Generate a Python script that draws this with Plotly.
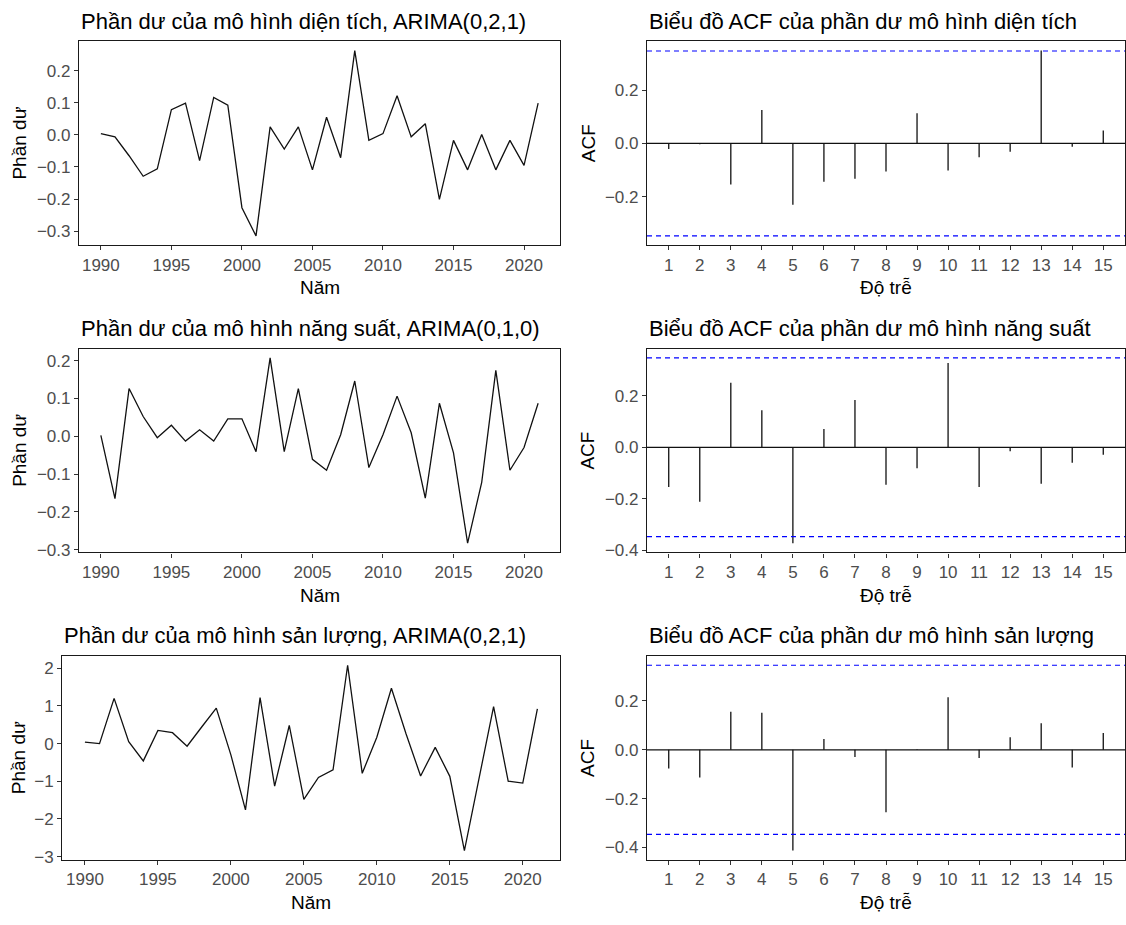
import plotly.graph_objects as go

# ---------------- data ----------------
years = list(range(1990, 2022))

resid_area = [0.004, -0.006, -0.065, -0.129, -0.106, 0.079, 0.099, -0.080, 0.117, 0.093,
              -0.227, -0.315, 0.025, -0.044, 0.025, -0.109, 0.055, -0.071, 0.263, -0.017,
              0.004, 0.122, -0.006, 0.035, -0.201, -0.017, -0.109, 0.001, -0.109, -0.017,
              -0.095, 0.099]

resid_yield = [0.002, -0.165, 0.126, 0.052, -0.004, 0.029, -0.013, 0.017, -0.013, 0.046,
               0.046, -0.041, 0.207, -0.041, 0.126, -0.061, -0.090, 0.004, 0.146, -0.083,
               0.004, 0.106, 0.009, -0.164, 0.087, -0.044, -0.283, -0.122, 0.174, -0.090,
               -0.030, 0.087]

resid_output = [0.04, 0.00, 1.20, 0.05, -0.46, 0.35, 0.29, -0.07, 0.44, 0.94,
                -0.30, -1.76, 1.22, -1.13, 0.48, -1.48, -0.90, -0.70, 2.08, -0.79,
                0.17, 1.47, 0.26, -0.86, -0.10, -0.87, -2.84, -0.90, 0.98, -1.00,
                -1.05, 0.92]

lags = list(range(1, 16))
acf_area = [-0.021, -0.003, -0.154, 0.125, -0.230, -0.144, -0.132, -0.105, 0.113, -0.101,
            -0.052, -0.031, 0.348, -0.012, 0.049]
acf_yield = [-0.154, -0.211, 0.250, 0.144, -0.372, 0.071, 0.183, -0.145, -0.081, 0.327,
             -0.154, -0.015, -0.141, -0.060, -0.029]
acf_output = [-0.077, -0.114, 0.156, 0.152, -0.413, 0.044, -0.030, -0.256, 0.002, 0.215,
              -0.034, 0.051, 0.109, -0.073, 0.069]

titles_resid = ["Phần dư của mô hình diện tích, ARIMA(0,2,1)",
                "Phần dư của mô hình năng suất, ARIMA(0,1,0)",
                "Phần dư của mô hình sản lượng, ARIMA(0,2,1)"]
titles_acf = ["Biểu đồ ACF của phần dư mô hình diện tích",
              "Biểu đồ ACF của phần dư mô hình năng suất",
              "Biểu đồ ACF của phần dư mô hình sản lượng"]
xlab_resid = "Năm"
ylab_resid = "Phần dư"
xlab_acf = "Độ trễ"
ylab_acf = "ACF"
year_ticks = [1990, 1995, 2000, 2005, 2010, 2015, 2020]
resid_ticks = [[-0.3, -0.2, -0.1, 0.0, 0.1, 0.2],
               [-0.3, -0.2, -0.1, 0.0, 0.1, 0.2],
               [-3, -2, -1, 0, 1, 2]]
acf_ticks = [-0.4, -0.2, 0.0, 0.2]

# ---------------- layout geometry (px) ----------------
W, H = 1126, 925
FONT = "Liberation Sans, Arial, sans-serif"
rows_top = [41.7, 351.7, 661.7]
rows_bot = [247.3, 557.3, 867.3]
left_l = [79, 79, 62.3]
left_r = 560
right_l, right_r = 647, 1125

def xd(l, r):
    return [l / W, r / W]

def yd(t, b):
    return [1 - b / H, 1 - t / H]

def expand(vals):
    lo, hi = min(vals), max(vals)
    pad = 0.05 * (hi - lo)
    return [lo - pad, hi + pad]

n = len(years)
ci = 1.96 / n ** 0.5

fig = go.Figure()

axis_common = dict(showline=True, mirror=True, linecolor="#1a1a1a", linewidth=1.3,
                   ticks="outside", ticklen=4, tickwidth=1.1, tickcolor="#333333",
                   showgrid=False, zeroline=False,
                   tickfont=dict(family=FONT, size=17, color="#4D4D4D"))

resid_series = [resid_area, resid_yield, resid_output]
acf_series = [acf_area, acf_yield, acf_output]

annotations = []
shapes = []

for r in range(3):
    # residual panel
    k = 2 * r + 1
    xa = "x" if k == 1 else f"x{k}"
    ya = "y" if k == 1 else f"y{k}"
    fig.add_trace(go.Scatter(x=years, y=resid_series[r], mode="lines",
                             line=dict(color="#111111", width=1.3),
                             xaxis=xa, yaxis=ya, showlegend=False, hoverinfo="skip"))
    fig.layout[f"xaxis{'' if k == 1 else k}"] = dict(
        domain=xd(left_l[r], left_r), anchor=ya,
        range=expand(years), tickvals=year_ticks, **axis_common)
    fig.layout[f"yaxis{'' if k == 1 else k}"] = dict(
        domain=yd(rows_top[r], rows_bot[r]), anchor=xa,
        range=expand(resid_series[r]), tickvals=resid_ticks[r],
        tickformat=(".1f" if r < 2 else "d"), **axis_common)
    annotations.append(dict(text=titles_resid[r], x=left_l[r] / W, y=1 - (rows_top[r] - 20.5) / H,
                            xref="paper", yref="paper", xanchor="left", yanchor="middle",
                            showarrow=False, font=dict(family=FONT, size=22, color="black")))
    annotations.append(dict(text=xlab_resid, x=(left_l[r] + left_r) / 2 / W,
                            y=1 - (rows_bot[r] + 43) / H,
                            xref="paper", yref="paper", xanchor="center", yanchor="middle",
                            showarrow=False, font=dict(family=FONT, size=19, color="black")))
    annotations.append(dict(text=ylab_resid, x=19.3 / W,
                            y=1 - (rows_top[r] + rows_bot[r]) / 2 / H,
                            xref="paper", yref="paper", xanchor="center", yanchor="middle",
                            textangle=-90,
                            showarrow=False, font=dict(family=FONT, size=19, color="black")))

    # ACF panel
    k = 2 * r + 2
    xa = f"x{k}"
    ya = f"y{k}"
    seg_x, seg_y = [], []
    for lg, v in zip(lags, acf_series[r]):
        seg_x += [lg, lg, None]
        seg_y += [0, v, None]
    fig.add_trace(go.Scatter(x=seg_x, y=seg_y, mode="lines",
                             line=dict(color="#111111", width=1.3),
                             xaxis=xa, yaxis=ya, showlegend=False, hoverinfo="skip"))
    fig.layout[f"xaxis{k}"] = dict(
        domain=xd(right_l, right_r), anchor=ya,
        range=expand(lags), tickvals=lags, **axis_common)
    fig.layout[f"yaxis{k}"] = dict(
        domain=yd(rows_top[r], rows_bot[r]), anchor=xa,
        range=expand(acf_series[r] + [ci, -ci]), tickvals=acf_ticks,
        tickformat=".1f", **axis_common)
    shapes.append(dict(type="line", xref=f"x{k} domain", yref=ya, x0=0, x1=1, y0=0, y1=0,
                       line=dict(color="#111111", width=1.3)))
    for s in (ci, -ci):
        shapes.append(dict(type="line", xref=f"x{k} domain", yref=ya, x0=0, x1=1, y0=s, y1=s,
                           line=dict(color="#0000FF", width=1.2, dash="5px,4px")))
    annotations.append(dict(text=titles_acf[r], x=right_l / W, y=1 - (rows_top[r] - 20.5) / H,
                            xref="paper", yref="paper", xanchor="left", yanchor="middle",
                            showarrow=False, font=dict(family=FONT, size=22, color="black")))
    annotations.append(dict(text=xlab_acf, x=(right_l + right_r) / 2 / W,
                            y=1 - (rows_bot[r] + 43) / H,
                            xref="paper", yref="paper", xanchor="center", yanchor="middle",
                            showarrow=False, font=dict(family=FONT, size=19, color="black")))
    annotations.append(dict(text=ylab_acf, x=588 / W,
                            y=1 - (rows_top[r] + rows_bot[r]) / 2 / H,
                            xref="paper", yref="paper", xanchor="center", yanchor="middle",
                            textangle=-90,
                            showarrow=False, font=dict(family=FONT, size=19, color="black")))

fig.update_layout(width=W, height=H, margin=dict(l=0, r=0, t=0, b=0),
                  paper_bgcolor="white", plot_bgcolor="white",
                  annotations=annotations, shapes=shapes,
                  font=dict(family=FONT))

fig.write_html("out.html")
